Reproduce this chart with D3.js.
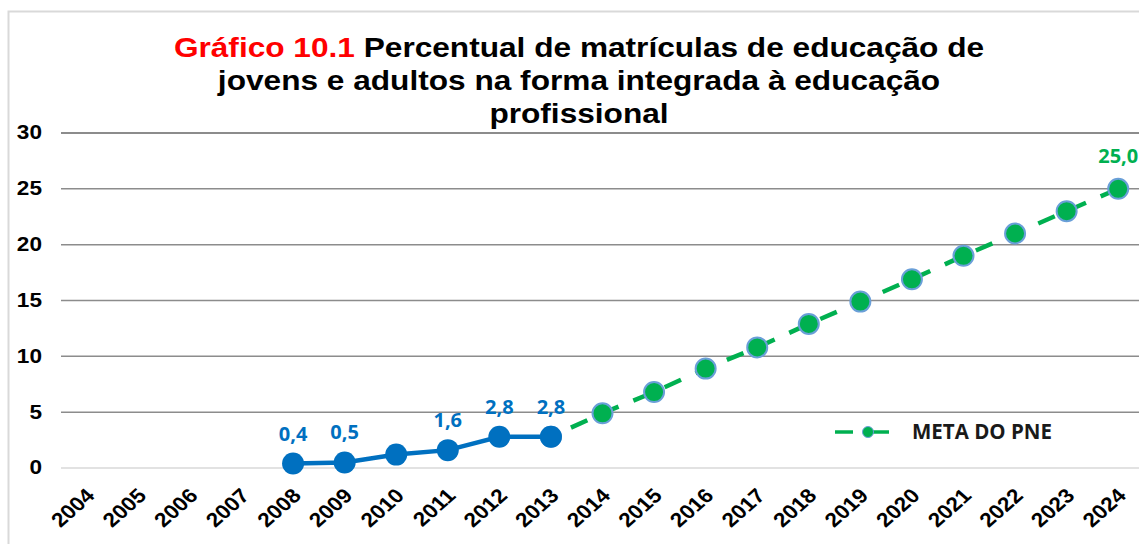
<!DOCTYPE html>
<html>
<head>
<meta charset="utf-8">
<script src="https://cdn.jsdelivr.net/npm/d3@7"></script>
<style>
  body { margin: 0; background: #fff; overflow: hidden; }
  svg { display: block; }
</style>
</head>
<body>
<svg id="chart" width="1139" height="544"></svg>
<script>
// categories on the x axis
const years = ['2004', '2005', '2006', '2007', '2008', '2009', '2010', '2011', '2012', '2013', '2014',
	'2015', '2016', '2017', '2018', '2019', '2020', '2021', '2022', '2023', '2024']

// observed series (blue)
const realYears = ['2008', '2009', '2010', '2011', '2012', '2013']
const realValues = [0.4, 0.5, 1.2, 1.6, 2.8, 2.8]
const realLabels = ['0,4', '0,5', '', '1,6', '2,8', '2,8']

// target series (green, dashed)
const metaYears = ['2013', '2014', '2015', '2016', '2017', '2018', '2019', '2020', '2021', '2022', '2023', '2024']
const metaValues = [2.8, 4.9, 6.8, 8.9, 10.8, 12.9, 14.9, 16.9, 19.0, 21.0, 23.0, 25.0]
const metaLabels = ['', '', '', '', '', '', '', '', '', '', '', '25,0']

const yTicks = [0, 5, 10, 15, 20, 25, 30]
const legendLabel = 'META DO PNE'

const BLUE = '#0070C0'
const GREEN = '#00B050'
const MARKER_EDGE = '#6A9FD8'
// the original picture is a bit wider than tall, text included
const STRETCH = 1.13

const $svg = d3.select('#chart')

// chart frame
$svg.append('rect')
	.attr('x', 8.5).attr('y', 11.5)
	.attr('width', 1200).attr('height', 600)
	.attr('fill', '#fff')
	.attr('stroke', '#d9d9d9')
	.attr('stroke-width', 2)

// title
const $title = $svg.append('text')
	.attr('transform', `translate(579,0) scale(${STRETCH},1)`)
	.attr('text-anchor', 'middle')
	.attr('font-family', '"Liberation Sans", Arial, sans-serif')
	.attr('font-weight', 'bold')
	.attr('font-size', 28)

const line1 = $title.append('tspan').attr('x', 0).attr('y', 57)
line1.append('tspan').attr('fill', '#FF0000').text('Gráfico 10.1')
line1.append('tspan').attr('fill', '#000').text(' Percentual de matrículas de educação de')
$title.append('tspan').attr('x', 0).attr('y', 90).attr('fill', '#000')
	.text('jovens e adultos na forma integrada à educação')
$title.append('tspan').attr('x', 0).attr('y', 123).attr('fill', '#000')
	.text('profissional')

// scales
const scaleX = d3.scalePoint()
	.domain(years)
	.range([61, 1144])
	.padding(0.5)

const scaleY = d3.scaleLinear()
	.domain([0, 30])
	.range([468, 133])

// gridlines
const $gGrid = $svg.append('g')
$gGrid.selectAll('line')
	.data(yTicks)
	.join('line')
	.attr('x1', 61).attr('x2', 1144)
	.attr('y1', d => scaleY(d)).attr('y2', d => scaleY(d))
	.attr('stroke', d => d === 0 ? '#d9d9d9' : '#8c8c8c')
	.attr('stroke-width', d => d === 30 ? 2 : 1.5)

// y axis labels
const yAxis = d3.axisLeft(scaleY)
	.tickValues(yTicks)
	.tickSize(0)
	.tickPadding(0)
	.tickFormat(d3.format('d'))

$svg.append('g')
	.attr('transform', 'translate(42,0)')
	.call(yAxis)
	.call(g => g.select('.domain').remove())
	.call(g => g.selectAll('.tick').attr('transform', d => `translate(0,${scaleY(d)}) scale(${STRETCH},1)`))
	.selectAll('text')
	.attr('font-family', '"Liberation Sans", Arial, sans-serif')
	.attr('font-weight', 'bold')
	.attr('font-size', 20)
	.attr('fill', '#000')

// x axis labels
const xAxis = d3.axisBottom(scaleX)
	.tickSize(0)
	.tickPadding(0)

$svg.append('g')
	.call(xAxis)
	.call(g => g.select('.domain').remove())
	.call(g => g.selectAll('.tick').attr('transform', d => `translate(${scaleX(d) - 2},487) scale(${STRETCH},1)`))
	.selectAll('text')
	.attr('font-family', '"Liberation Sans", Arial, sans-serif')
	.attr('font-weight', 'bold')
	.attr('font-size', 20)
	.attr('fill', '#000')
	.attr('text-anchor', 'end')
	.attr('y', 0)
	.attr('dy', '0.7em')
	.attr('transform', 'rotate(-45)')

// series
const line = d3.line()
	.x(d => scaleX(d.year))
	.y(d => scaleY(d.value))

const metaData = metaYears.map((year, i) => ({ year, value: metaValues[i], label: metaLabels[i] }))
const realData = realYears.map((year, i) => ({ year, value: realValues[i], label: realLabels[i] }))

const $gViz = $svg.append('g')

$gViz.append('path')
	.datum(metaData)
	.attr('d', line)
	.attr('fill', 'none')
	.attr('stroke', GREEN)
	.attr('stroke-width', 4.5)
	.attr('stroke-dasharray', '18,16')
	.attr('stroke-dashoffset', 12)

$gViz.selectAll('circle.meta')
	.data(metaData)
	.join('circle')
	.attr('class', 'meta')
	.attr('cx', d => scaleX(d.year))
	.attr('cy', d => scaleY(d.value))
	.attr('r', 10)
	.attr('fill', GREEN)
	.attr('stroke', MARKER_EDGE)
	.attr('stroke-width', 2)

$gViz.append('path')
	.datum(realData)
	.attr('d', line)
	.attr('fill', 'none')
	.attr('stroke', BLUE)
	.attr('stroke-width', 4.5)

$gViz.selectAll('circle.real')
	.data(realData)
	.join('circle')
	.attr('class', 'real')
	.attr('cx', d => scaleX(d.year))
	.attr('cy', d => scaleY(d.value))
	.attr('r', 11)
	.attr('fill', BLUE)

// data labels
const labelFont = '"Open Sans", "Noto Sans", sans-serif'
$gViz.selectAll('text.real-label')
	.data(realData.filter(d => d.label))
	.join('text')
	.attr('class', 'real-label')
	.attr('x', d => scaleX(d.year))
	.attr('y', d => scaleY(d.value) - 23)
	.attr('text-anchor', 'middle')
	.attr('font-family', labelFont)
	.attr('font-weight', 'bold')
	.attr('font-size', 20)
	.attr('fill', BLUE)
	.text(d => d.label)

$gViz.selectAll('text.meta-label')
	.data(metaData.filter(d => d.label))
	.join('text')
	.attr('class', 'meta-label')
	.attr('x', d => scaleX(d.year))
	.attr('y', d => scaleY(d.value) - 26)
	.attr('text-anchor', 'middle')
	.attr('font-family', labelFont)
	.attr('font-weight', 'bold')
	.attr('font-size', 20)
	.attr('fill', GREEN)
	.text(d => d.label)

// legend
const $legend = $svg.append('g').attr('transform', 'translate(835,432)')
$legend.append('line')
	.attr('x1', 0).attr('x2', 18).attr('y1', 0).attr('y2', 0)
	.attr('stroke', GREEN).attr('stroke-width', 3.5)
$legend.append('line')
	.attr('x1', 36).attr('x2', 54).attr('y1', 0).attr('y2', 0)
	.attr('stroke', GREEN).attr('stroke-width', 3.5)
$legend.append('circle')
	.attr('cx', 33).attr('cy', 0).attr('r', 5.5)
	.attr('fill', GREEN)
	.attr('stroke', MARKER_EDGE)
	.attr('stroke-width', 1)
$legend.append('text')
	.attr('x', 77).attr('y', 0)
	.attr('dy', '0.36em')
	.attr('font-family', labelFont)
	.attr('font-weight', 'bold')
	.attr('font-size', 20.5)
	.attr('fill', '#1a1a1a')
	.text(legendLabel)
</script>
</body>
</html>
